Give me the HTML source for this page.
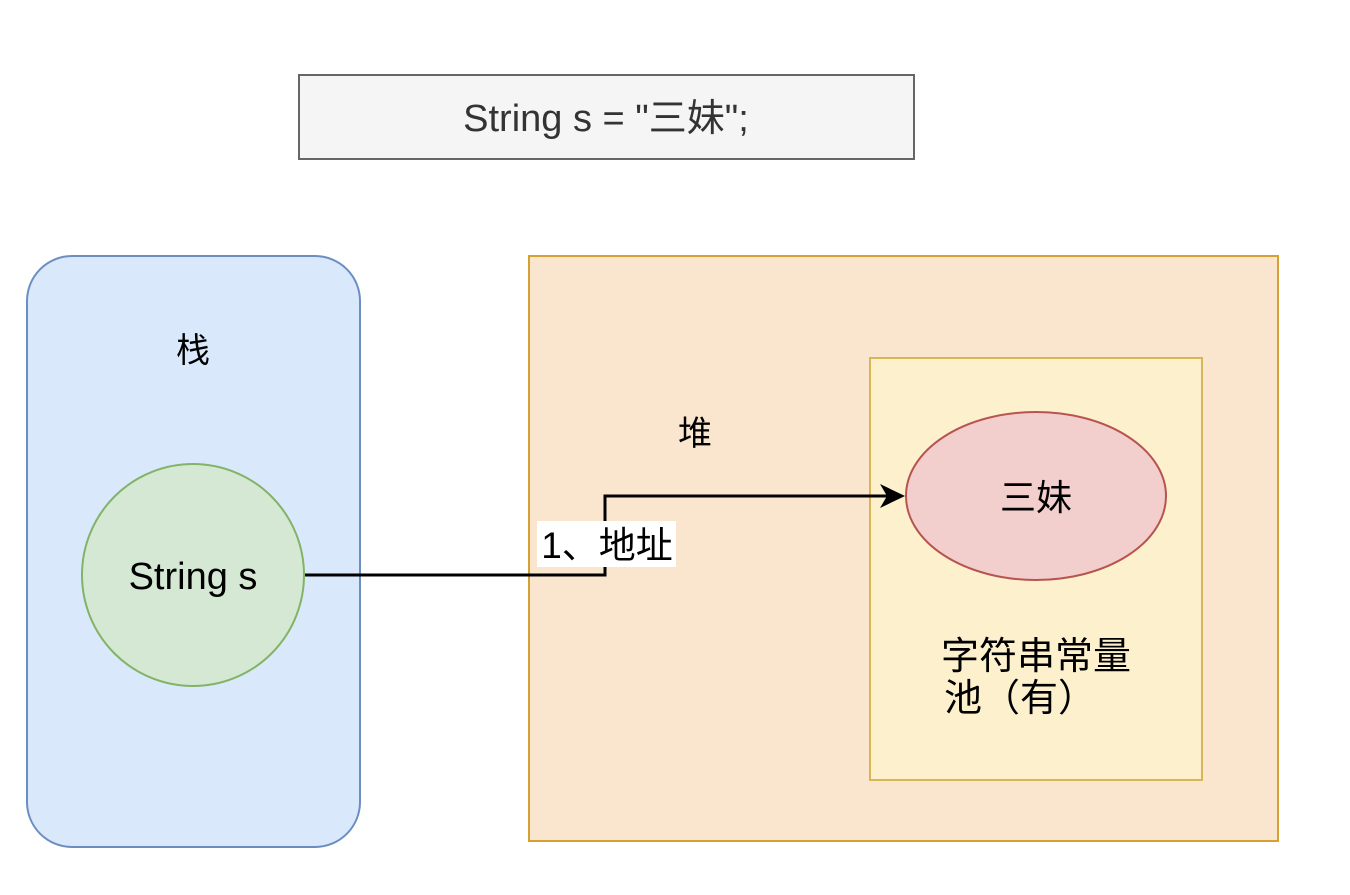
<!DOCTYPE html>
<html><head><meta charset="utf-8"><style>
html,body{margin:0;padding:0;background:#fff;}
svg text{font-family:"Liberation Sans","Noto Sans CJK SC",sans-serif;}
</style></head><body>
<svg width="1350" height="890" viewBox="0 0 1350 890" xmlns="http://www.w3.org/2000/svg">
<rect x="299" y="75" width="615" height="84" fill="#f5f5f5" stroke="#666" stroke-width="2"/>
<text x="606" y="131" font-size="38" fill="#333" text-anchor="middle">String s = "三妹";</text>
<rect x="27" y="256" width="333" height="591" rx="45" fill="#dae8fc" stroke="#6c8ebf" stroke-width="2"/>
<text x="193" y="362" font-size="34" text-anchor="middle" fill="#000">栈</text>
<circle cx="193" cy="575" r="111" fill="#d5e8d4" stroke="#82b366" stroke-width="2"/>
<text x="193" y="589" font-size="38" text-anchor="middle" fill="#000">String s</text>
<rect x="529" y="256" width="749" height="585" fill="#fae6cf" stroke="#d6a033" stroke-width="2"/>
<text x="695" y="445" font-size="34" text-anchor="middle" fill="#000">堆</text>
<rect x="870" y="358" width="332" height="422" fill="#fdf1cd" stroke="#d6b656" stroke-width="2"/>
<ellipse cx="1036" cy="496" rx="130" ry="84" fill="#f2cfcd" stroke="#b85450" stroke-width="2"/>
<text x="1036" y="510" font-size="36" text-anchor="middle" fill="#000">三妹</text>
<text x="1036" y="669" font-size="38" text-anchor="middle" fill="#000">字符串常量</text>
<text x="1020" y="711" font-size="38" text-anchor="middle" fill="#000">池（有）</text>
<polyline points="305,575 605,575 605,496 888,496" fill="none" stroke="#000" stroke-width="3"/>
<polygon points="905,496 880,484 887,496 880,508" fill="#000"/>
<rect x="537" y="521" width="139" height="46" fill="#fff"/>
<text x="607" y="558" font-size="37" text-anchor="middle" fill="#000">1、地址</text>
</svg>
</body></html>
